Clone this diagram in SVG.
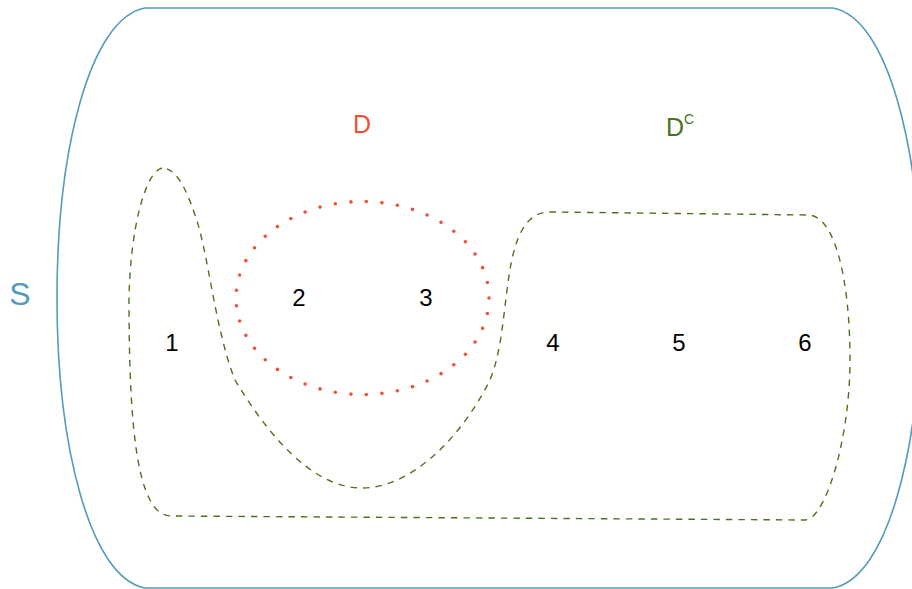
<svg xmlns="http://www.w3.org/2000/svg" width="912" height="589" viewBox="0 0 912 589">
<style>
.s{fill:none;stroke:#569BBD;stroke-width:1.6}
.dc{fill:none;stroke:#4C721D;stroke-width:1.4;stroke-dasharray:6.5 6}
.d{fill:none;stroke:#F05133;stroke-width:3.6;stroke-linecap:round;stroke-dasharray:0 1}
text{font-family:"Liberation Sans",Arial,sans-serif}
.n{font-size:24px;fill:#000;text-anchor:middle}
</style>
<rect width="912" height="589" fill="#fff"/>
<g id="S">
<path class="s" d="M145,8 L833,8 C888,18 921,150 921,298 C921,446 888,578 833,588 L145,588 C90,578 57,446 57,298 C57,150 90,18 145,8 Z"/>
<text x="20" y="305" font-size="32" fill="#569BBD" text-anchor="middle">S</text>
</g>
<g id="Dc">
<path class="dc" d="M162,168 C145,172 130,230 129,300 C129,400 134,470 150,500 Q158,516 172,516 L805,520 C825,520 850,440 850,360 C850,280 835,215 808,215 L550,212 C520,212 512,250 507,290 C502,330 500,355 490,380 C460,440 410,488 362,488 C310,488 265,430 235,380 C215,330 208,250 195,215 C185,185 175,168 162,168 Z"/>
<text x="666" y="136" font-size="25" fill="#4C721D">D<tspan dy="-12" font-size="14">C</tspan></text>
</g>
<g id="D">
<ellipse class="d" cx="362.5" cy="298" rx="126.5" ry="96.5" pathLength="45"/>
<text x="362" y="133" font-size="25" fill="#F05133" text-anchor="middle">D</text>
</g>
<g id="outcomes">
<text class="n" x="172" y="351">1</text>
<text class="n" x="299" y="306">2</text>
<text class="n" x="426" y="306">3</text>
<text class="n" x="553" y="351">4</text>
<text class="n" x="679" y="351">5</text>
<text class="n" x="805" y="351">6</text>
</g>
<g id="connectors"/>
</svg>
